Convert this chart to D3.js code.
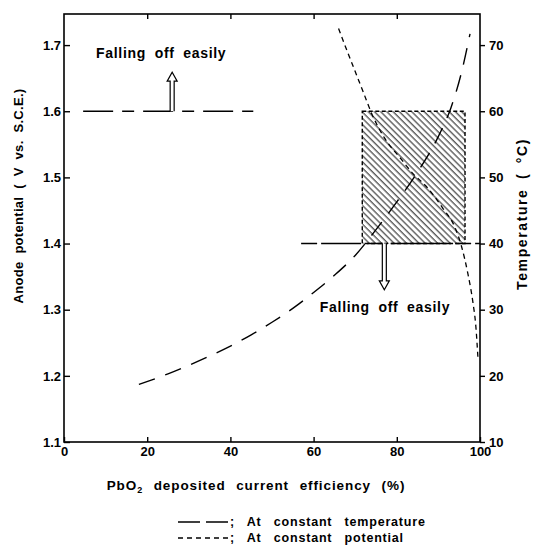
<!DOCTYPE html>
<html>
<head>
<meta charset="utf-8">
<script src="https://cdn.jsdelivr.net/npm/d3@7"></script>
<style>
  body { margin: 0; background: #fff; }
  svg { display: block; font-family: "Liberation Sans", Arial, sans-serif; font-weight: bold; }
</style>
</head>
<body>
<svg></svg>
<script>
const width = 533;
const height = 550;

// кривая при постоянной температуре: КПД (%) -> потенциал (В)
const effTemp = [18, 25, 30, 35, 40, 45, 50, 55, 60, 65, 70, 75, 80, 85, 90, 93, 95.4, 97.6];
const potTemp = [1.187, 1.203, 1.216, 1.230, 1.245, 1.262, 1.281, 1.302, 1.326, 1.352, 1.382, 1.421, 1.463, 1.508, 1.562, 1.605, 1.655, 1.717];

// кривая при постоянном потенциале: КПД (%) -> температура (°C)
const effPot = [66, 68, 70, 72, 74, 77, 81, 84, 87, 91, 94, 95.5, 97.1, 98.3, 99, 99.5];
const tempPot = [72.5, 69.2, 66, 62.8, 59.6, 56, 52.8, 50.5, 48.7, 45.4, 42.4, 39.7, 35.4, 31.1, 27.5, 22.8];

// деления осей
const xTicks = [0, 20, 40, 60, 80, 100];
const potTicks = [1.1, 1.2, 1.3, 1.4, 1.5, 1.6, 1.7];
const tempTicks = [10, 20, 30, 40, 50, 60, 70];

// пределы и заштрихованная область
const potLimit = {v: 1.6, from: 4.6, to: 45.5};
const tempLimit = {t: 40, from: 57, to: 100};
const box = {x0: 71.7, x1: 96.4, v0: 1.4, v1: 1.6};

let svg = d3.select("svg")
    .attr("width", width)
    .attr("height", height);

const x = d3.scaleLinear().domain([0, 100]).range([64, 480]);
const y = d3.scaleLinear().domain([1.1, 1.747]).range([442, 14]);
const yT = d3.scaleLinear().domain([10, 74.7]).range([442, 14]);

// штриховка
svg.append("defs").append("pattern")
    .attr("id", "hatch")
    .attr("patternUnits", "userSpaceOnUse")
    .attr("width", 4.4)
    .attr("height", 4.4)
    .attr("patternTransform", "rotate(-45)")
    .append("line")
    .attr("x1", 1).attr("y1", 0)
    .attr("x2", 1).attr("y2", 4.4)
    .style("stroke", "#000")
    .style("stroke-width", 0.9);

// оси
let styleAxis = (g) => {
    g.select(".domain").remove();
    g.selectAll(".tick line").style("stroke", "#000").style("stroke-width", 1.4);
    g.selectAll(".tick text").style("fill", "#000").style("font-size", "13px").style("font-weight", "bold");
};

svg.append("g")
    .attr("transform", `translate(${x(0)},0)`)
    .call(d3.axisLeft(y).tickValues(potTicks).tickSize(-6).tickPadding(3).tickFormat(d3.format(".1f")))
    .call(styleAxis);

svg.append("g")
    .attr("transform", `translate(0,${y(1.1)})`)
    .call(d3.axisBottom(x).tickValues(xTicks).tickSize(-5).tickPadding(5))
    .call(styleAxis);

svg.append("g")
    .attr("transform", `translate(${x(100)},0)`)
    .call(d3.axisRight(yT).tickValues(tempTicks).tickSize(5).tickPadding(4))
    .call(styleAxis);

svg.append("g")
    .attr("transform", `translate(0,${y.range()[1]})`)
    .call(d3.axisTop(x).tickValues([20, 40, 60, 80]).tickSize(-5).tickFormat(""))
    .call(styleAxis);

// рамка
svg.append("rect")
    .attr("x", x(0))
    .attr("y", y.range()[1])
    .attr("width", x(100) - x(0))
    .attr("height", y.range()[0] - y.range()[1])
    .style("fill", "none")
    .style("stroke", "#000")
    .style("stroke-width", 1.6);

// заштрихованная область
svg.append("rect")
    .attr("x", x(box.x0))
    .attr("y", y(box.v1))
    .attr("width", x(box.x1) - x(box.x0))
    .attr("height", y(box.v0) - y(box.v1))
    .style("fill", "url(#hatch)")
    .style("stroke", "#000")
    .style("stroke-width", 1.4)
    .style("stroke-dasharray", "4,2.5");

// линии пределов
svg.append("line")
    .attr("x1", x(potLimit.from)).attr("x2", x(potLimit.to))
    .attr("y1", y(potLimit.v)).attr("y2", y(potLimit.v))
    .style("stroke", "#000").style("stroke-width", 1.4)
    .style("stroke-dasharray", "30,9,12,9");

svg.append("line")
    .attr("x1", x(tempLimit.from)).attr("x2", x(tempLimit.to))
    .attr("y1", yT(tempLimit.t)).attr("y2", yT(tempLimit.t))
    .style("stroke", "#000").style("stroke-width", 1.4)
    .style("stroke-dasharray", "16,4,40,6,16,8,60,4");

// кривые
const lineTemp = d3.line()
    .x((d, i) => x(effTemp[i]))
    .y((d) => y(d))
    .curve(d3.curveMonotoneX);

svg.append("path")
    .attr("d", lineTemp(potTemp))
    .style("fill", "none")
    .style("stroke", "#000")
    .style("stroke-width", 1.4)
    .style("stroke-dasharray", "17,11");

const linePot = d3.line()
    .x((d, i) => x(effPot[i]))
    .y((d) => yT(d))
    .curve(d3.curveMonotoneX);

svg.append("path")
    .attr("d", linePot(tempPot))
    .style("fill", "none")
    .style("stroke", "#000")
    .style("stroke-width", 1.3)
    .style("stroke-dasharray", "5,4");

// полые стрелки
function arrow(px, y0, y1) {
    const dir = y1 < y0 ? -1 : 1;
    const hw = 2, hh = 5, hl = 9;
    const yb = y1 - dir * hl;
    const p = d3.path();
    p.moveTo(px - hw, y0);
    p.lineTo(px - hw, yb);
    p.lineTo(px - hh, yb);
    p.lineTo(px, y1);
    p.lineTo(px + hh, yb);
    p.lineTo(px + hw, yb);
    p.lineTo(px + hw, y0);
    svg.append("path")
        .attr("d", p.toString())
        .style("fill", "#fff")
        .style("stroke", "#000")
        .style("stroke-width", 1.2);
}
arrow(x(26), y(1.6), y(1.659));
arrow(x(77), yT(40), yT(33));

// подписи
let note = (px, py) => svg.append("text")
    .attr("x", px).attr("y", py)
    .style("font-size", "14px")
    .style("letter-spacing", "0.7px")
    .style("word-spacing", "4px")
    .text("Falling off easily");

note(x(7.7), y(1.68));
note(x(61.5), yT(29.6));

svg.append("text")
    .attr("transform", "translate(23,196) rotate(-90)")
    .attr("text-anchor", "middle")
    .style("font-size", "13px")
    .style("letter-spacing", "0.3px")
    .style("word-spacing", "4px")
    .text("Anode potential ( V vs. S.C.E.)");

svg.append("text")
    .attr("transform", "translate(527,214) rotate(-90)")
    .attr("text-anchor", "middle")
    .style("font-size", "14px")
    .style("letter-spacing", "1.6px")
    .style("word-spacing", "4px")
    .text("Temperature ( °C)");

svg.append("text")
    .attr("x", 256).attr("y", 490)
    .attr("text-anchor", "middle")
    .style("font-size", "13.5px")
    .style("letter-spacing", "0.9px")
    .style("word-spacing", "6px")
    .html("PbO<tspan font-size='9px' dy='3'>2</tspan><tspan dy='-3'> deposited current efficiency (%)</tspan>");

// легенда
const legend = svg.append("g").attr("transform", "translate(178,0)");
legend.append("line")
    .attr("x1", 0).attr("x2", 50).attr("y1", 522).attr("y2", 522)
    .style("stroke", "#000").style("stroke-width", 1.4)
    .style("stroke-dasharray", "22,6");
legend.append("text")
    .attr("x", 52).attr("y", 526)
    .style("font-size", "12.5px")
    .style("letter-spacing", "0.8px")
    .style("word-spacing", "8px")
    .text("; At constant temperature");
legend.append("line")
    .attr("x1", 0).attr("x2", 50).attr("y1", 538).attr("y2", 538)
    .style("stroke", "#000").style("stroke-width", 1.4)
    .style("stroke-dasharray", "5,4");
legend.append("text")
    .attr("x", 52).attr("y", 542)
    .style("font-size", "12.5px")
    .style("letter-spacing", "0.8px")
    .style("word-spacing", "8px")
    .text("; At constant potential");
</script>
</body>
</html>
